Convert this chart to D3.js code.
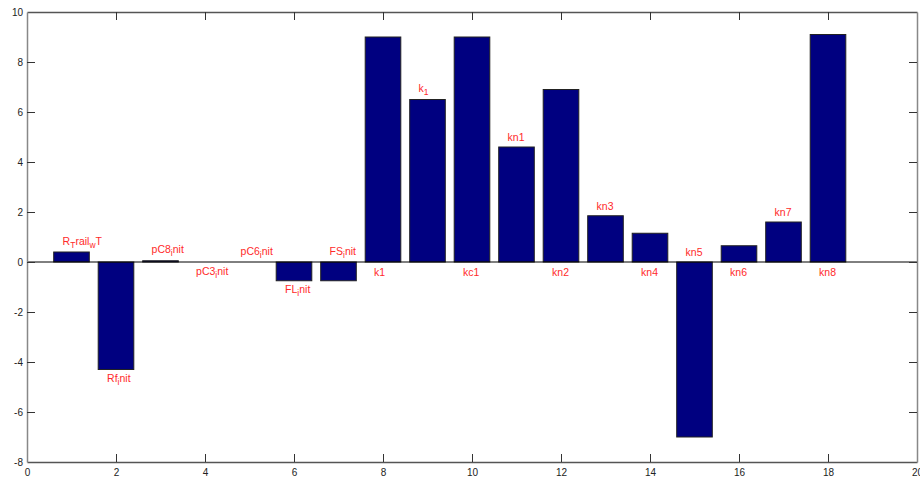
<!DOCTYPE html>
<html>
<head>
<meta charset="utf-8">
<script src="https://cdn.jsdelivr.net/npm/d3@7"></script>
<style>
  html, body { margin: 0; padding: 0; background: #fff; }
  svg { display: block; }
  text { font-family: "Liberation Sans", Arial, Helvetica, sans-serif; }
</style>
</head>
<body>
<svg id="chart" width="920" height="479"></svg>
<script>
// ---- data ----
const positions = [1, 2, 3, 4, 5, 6, 7, 8, 9, 10, 11, 12, 13, 14, 15, 16, 17, 18];
const values = [0.4, -4.3, 0.05, 0, 0, -0.75, -0.75, 9.0, 6.5, 9.0, 4.6, 6.9, 1.85, 1.15, -7.0, 0.65, 1.6, 9.1];
const labels = ["R_Trail_wT", "Rf_init", "pC8_init", "pC3_init", "pC6_init", "FL_init", "FS_init",
                "k1", "k_1", "kc1", "kn1", "kn2", "kn3", "kn4", "kn5", "kn6", "kn7", "kn8"];
const xTicks = [0, 2, 4, 6, 8, 10, 12, 14, 16, 18, 20];
const yTicks = [-8, -6, -4, -2, 0, 2, 4, 6, 8, 10];

// ---- layout ----
const svg = d3.select("#chart");
const L = 27, R = 917, T = 12, B = 462;
const x = d3.scaleLinear().domain([0, 20]).range([L, R]);
const y = d3.scaleLinear().domain([-8, 10]).range([B, T]);
const barW = 0.8;
const tickLen = 8;

// bars
svg.append("g").selectAll("rect").data(values).join("rect")
  .attr("x", (d, i) => x(positions[i] - barW / 2))
  .attr("width", (d, i) => x(positions[i] + barW / 2) - x(positions[i] - barW / 2))
  .attr("y", d => y(Math.max(d, 0)))
  .attr("height", d => Math.abs(y(d) - y(0)))
  .attr("fill", "#000080")
  .attr("stroke", "#222")
  .attr("stroke-width", 1);

// zero baseline
svg.append("line")
  .attr("x1", x(0)).attr("x2", x(20))
  .attr("y1", y(0)).attr("y2", y(0))
  .attr("stroke", "#000").attr("stroke-width", 1);

// axes via d3-axis
const fmt = d => String(d); // plain hyphen-minus like the reference
const axB = svg.append("g").attr("transform", `translate(0,${B})`)
  .call(d3.axisBottom(x).tickValues(xTicks).tickFormat(fmt).tickSizeInner(-tickLen).tickSizeOuter(0).tickPadding(7));
const axT = svg.append("g").attr("transform", `translate(0,${T})`)
  .call(d3.axisTop(x).tickValues(xTicks).tickFormat("").tickSizeInner(-tickLen).tickSizeOuter(0));
const axL = svg.append("g").attr("transform", `translate(${L},0)`)
  .call(d3.axisLeft(y).tickValues(yTicks).tickFormat(fmt).tickSizeInner(-tickLen).tickSizeOuter(0).tickPadding(4));
const axR = svg.append("g").attr("transform", `translate(${R},0)`)
  .call(d3.axisRight(y).tickValues(yTicks).tickFormat("").tickSizeInner(-tickLen).tickSizeOuter(0));

[axB, axT, axL, axR].forEach(g => {
  g.select(".domain").attr("stroke", "#555").attr("stroke-width", 1.3);
  g.selectAll(".tick line").attr("stroke", "#333").attr("stroke-width", 1);
  g.selectAll(".tick text").attr("fill", "#222").style("font-size", "10px")
    .style("font-family", "'Liberation Sans', Arial, sans-serif");
});
axL.select(".domain").attr("stroke", "#888").attr("stroke-width", 1.5);
axR.select(".domain").attr("stroke", "#888").attr("stroke-width", 1.5);
// hide end ticks that coincide with frame edges
axB.selectAll(".tick").filter(d => d === 0 || d === 20).select("line").remove();
axT.selectAll(".tick").filter(d => d === 0 || d === 20).select("line").remove();
axL.selectAll(".tick").filter(d => d === -8 || d === 10).select("line").remove();
axR.selectAll(".tick").filter(d => d === -8 || d === 10).select("line").remove();

// value labels (TeX-like subscripts)
function addTex(sel, s) {
  let i = 0, buf = "";
  const parts = [];
  while (i < s.length) {
    if (s[i] === "_" && i + 1 < s.length) {
      if (buf) parts.push({ t: buf, sub: false });
      buf = "";
      parts.push({ t: s[i + 1], sub: true });
      i += 2;
    } else { buf += s[i]; i++; }
  }
  if (buf) parts.push({ t: buf, sub: false });
  let shifted = false;
  parts.forEach(p => {
    const ts = sel.append("tspan").text(p.t);
    if (p.sub && !shifted) { ts.attr("dy", 4).style("font-size", "8.5px"); shifted = true; }
    else if (p.sub && shifted) { ts.style("font-size", "8.5px"); }
    else if (!p.sub && shifted) { ts.attr("dy", -4); shifted = false; }
  });
}

const lab = svg.append("g");
labels.forEach((s, i) => {
  const v = values[i];
  const above = (i % 2 === 0);
  const yy = above ? y(Math.max(v, 0) + 0.4) : y(Math.min(v, 0) - 0.4);
  const hasSub = s.includes("_");
  const t = lab.append("text")
    .attr("x", x(positions[i] - 0.2))
    .attr("y", yy + (hasSub ? -1.5 : 0))
    .attr("dominant-baseline", "central")
    .attr("fill", "#ff2a2a")
    .style("font-size", "10.5px");
  addTex(t, s);
});
</script>
</body>
</html>
